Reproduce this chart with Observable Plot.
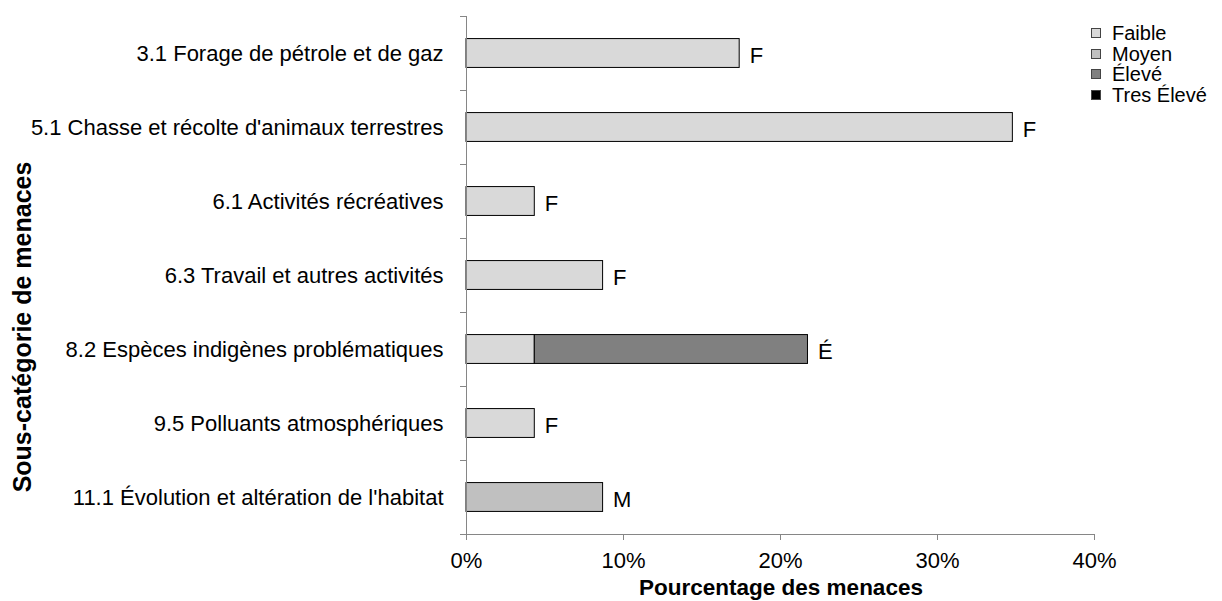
<!DOCTYPE html>
<html><head><meta charset="utf-8">
<script src="https://cdn.jsdelivr.net/npm/d3@7"></script>
<script src="https://cdn.jsdelivr.net/npm/@observablehq/plot@0.6"></script>
<style>
body{margin:0;background:#fff;font-family:"Liberation Sans",Arial,sans-serif;}
#wrap{position:relative;width:1222px;height:601px;overflow:hidden;}
#legend{position:absolute;left:1091px;top:23px;font-size:20px;line-height:20.5px;color:#000;}
#legend .row{display:flex;align-items:center;height:20.5px;white-space:nowrap;}
#legend .sw{width:8px;height:8px;border:1px solid #444;margin-right:11px;flex:none;}
</style></head><body><div id="wrap"></div>
<script>
const categories = [
  "3.1 Forage de pétrole et de gaz",
  "5.1 Chasse et récolte d'animaux terrestres",
  "6.1 Activités récréatives",
  "6.3 Travail et autres activités",
  "8.2 Espèces indigènes problématiques",
  "9.5 Polluants atmosphériques",
  "11.1 Évolution et altération de l'habitat"
];
const faible    = [0.174, 0.348, 0.0435, 0.087, 0.0435, 0.0435, 0];
const moyen     = [0, 0, 0, 0, 0, 0, 0.087];
const eleve     = [0, 0, 0, 0, 0.174, 0, 0];
const tresEleve = [0, 0, 0, 0, 0, 0, 0];
const barLabels = ["F", "F", "F", "F", "É", "F", "M"];
const levels = ["Faible", "Moyen", "Élevé", "Tres Élevé"];
const levelColors = ["#d9d9d9", "#c0c0c0", "#808080", "#000000"];
const xTicks = [0, 0.1, 0.2, 0.3, 0.4];
const xTitle = "Pourcentage des menaces";
const yTitle = "Sous-catégorie de menaces";

const series = [faible, moyen, eleve, tresEleve];
const rows = [];
categories.forEach((c, i) => series.forEach((s, j) => {
  if (s[i] > 0) rows.push({cat: c, level: levels[j], value: s[i]});
}));
const totals = categories.map((c, i) => ({cat: c, total: d3.sum(series, s => s[i]), label: barLabels[i]}));

const axisGray = "#868686";
const chart = Plot.plot({
  width: 1222, height: 601,
  marginLeft: 466, marginRight: 128, marginTop: 16, marginBottom: 67,
  style: {fontFamily: "'Liberation Sans', Arial, sans-serif", fontSize: "22px", color: "#000", background: "#fff"},
  x: {domain: [0, 0.4]},
  y: {domain: categories, paddingInner: 0.61, paddingOuter: 0.305, round: false},
  color: {domain: levels, range: levelColors},
  marks: [
    Plot.barX(rows, Plot.stackX({x: "value", y: "cat", fill: "level", stroke: "#000", strokeWidth: 1})),
    Plot.text(totals, {x: "total", y: "cat", text: "label", textAnchor: "start", dx: 10, dy: 2, fontSize: 22, fill: "#000"}),
    Plot.ruleX([0], {stroke: axisGray}),
    Plot.ruleY(categories, {y: d => d, x1: 0, x2: 0, insetLeft: -6, dy: -37, stroke: axisGray}),
    Plot.ruleY([categories[categories.length - 1]], {y: d => d, x1: 0, x2: 0.4, insetLeft: -6, dy: 37, stroke: axisGray}),
    Plot.axisX({ticks: xTicks, tickFormat: d3.format(".0%"), tickSize: 6, tickPadding: 12, stroke: axisGray, fill: "#000", label: null, fontSize: 22}),
    Plot.axisY({tickSize: 0, tickPadding: 23, label: null, fontSize: 22, fill: "#000"})
  ]
});
const wrap = document.getElementById("wrap");
wrap.appendChild(chart);

const svg = d3.select(chart);
svg.append("text").attr("x", 781).attr("y", 595).attr("text-anchor", "middle")
  .attr("font-weight", "bold").attr("font-size", 22.5).attr("fill", "#000").text(xTitle);
svg.append("text").attr("transform", "translate(31,327) rotate(-90)").attr("text-anchor", "middle")
  .attr("font-weight", "bold").attr("font-size", 25).attr("fill", "#000").text(yTitle);

const legend = document.createElement("div");
legend.id = "legend";
levels.forEach((l, i) => {
  const row = document.createElement("div");
  row.className = "row";
  const sw = document.createElement("span");
  sw.className = "sw";
  sw.style.background = levelColors[i];
  const t = document.createElement("span");
  t.textContent = l;
  row.appendChild(sw); row.appendChild(t);
  legend.appendChild(row);
});
wrap.appendChild(legend);
</script></body></html>
